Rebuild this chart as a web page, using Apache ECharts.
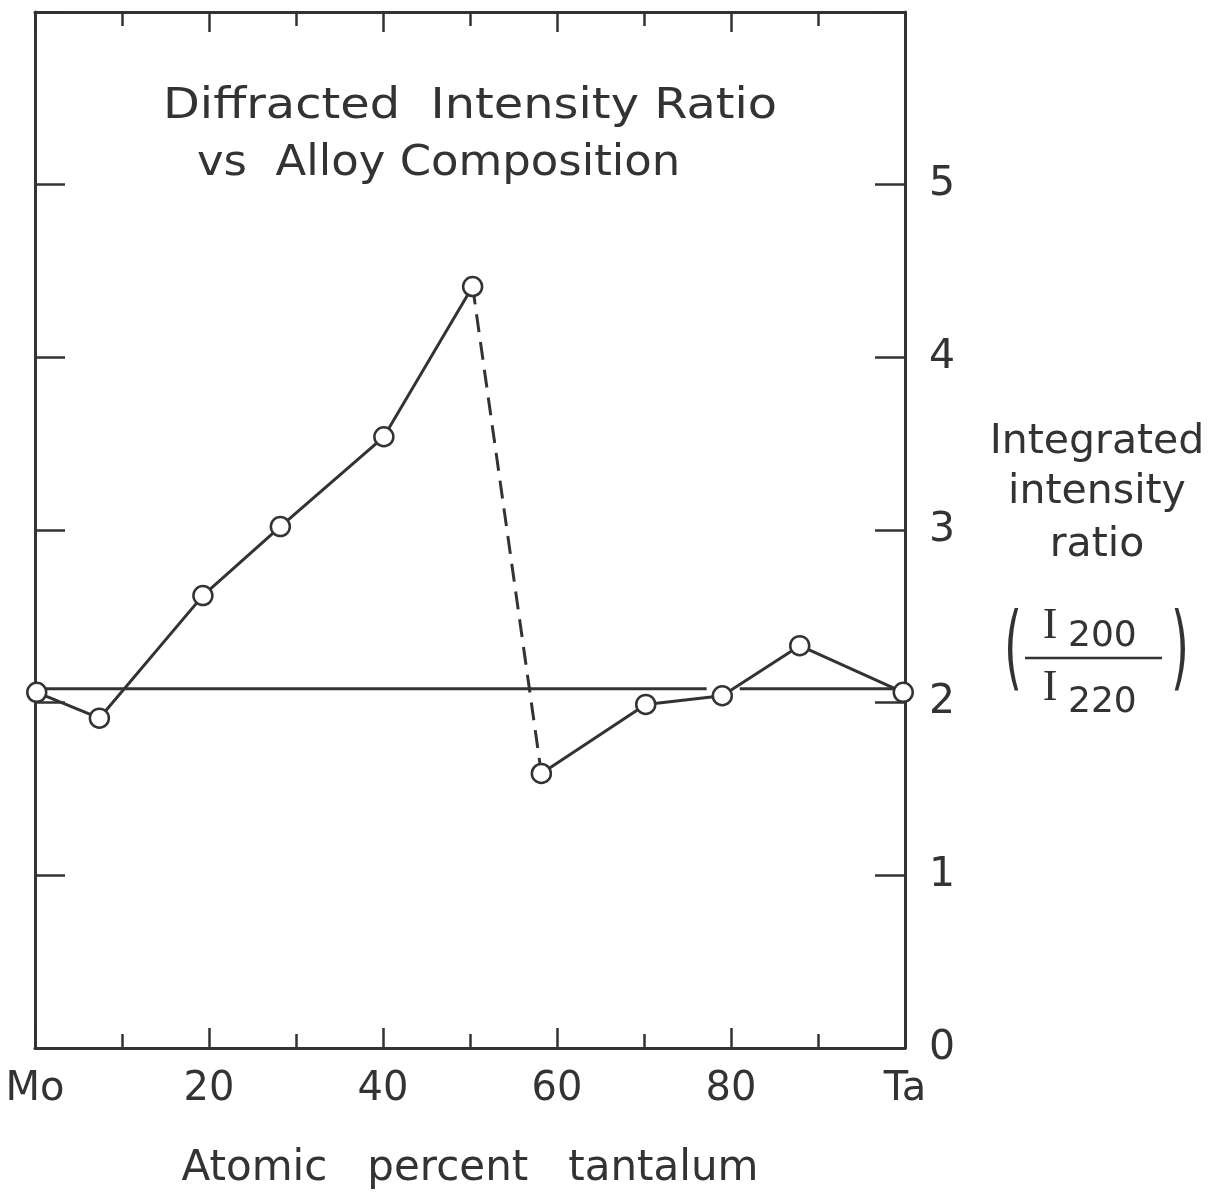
<!DOCTYPE html>
<html>
<head>
<meta charset="utf-8">
<script src="https://cdn.jsdelivr.net/npm/echarts@6/dist/echarts.min.js"></script>
<style>html,body{margin:0;padding:0;background:#fff;}#c{width:1221px;height:1198px;}</style>
</head>
<body>
<div id="c"></div>
<script>
// Atomic percent tantalum (x) and integrated intensity ratio I200/I220 (y)
const compPct = [0.2, 7.4, 19.3, 28.2, 40.1, 50.3, 58.2, 70.2, 79.0, 87.9, 99.8];
const ratio   = [2.06, 1.91, 2.62, 3.02, 3.54, 4.41, 1.59, 1.99, 2.04, 2.33, 2.06];
// index range of the dashed (uncertain) segment
const dashedFrom = 5, dashedTo = 6;
// horizontal reference level and its two drawn pieces (x-ranges)
const refLevel = 2.08;
const refPieces = [[0.2, 77.2], [81.0, 99.8]];
// axis tick labels
const xTickLabels = {0: 'Mo', 20: '20', 40: '40', 60: '60', 80: '80', 100: 'Ta'};
const yTickLabels = ['0', '1', '2', '3', '4', '5'];

const INK = '#333';
const FONT = 'DejaVu Sans';

const pts = compPct.map((x, i) => [x, ratio[i]]);
const solid1 = pts.slice(0, dashedFrom + 1);
const dashed = pts.slice(dashedFrom, dashedTo + 1);
const solid2 = pts.slice(dashedTo);

const markerStyle = {color: '#fff', borderColor: INK, borderWidth: 2.5};

const series = [];
refPieces.forEach(p => {
  series.push({
    type: 'line', data: [[p[0], refLevel], [p[1], refLevel]],
    showSymbol: false, symbol: 'none', z: 1,
    lineStyle: {color: INK, width: 3}, silent: true, animation: false
  });
});
series.push({
  type: 'line', data: dashed, symbol: 'none', z: 2,
  lineStyle: {color: INK, width: 3, type: [18, 10]}, animation: false
});
[solid1, solid2].forEach(d => {
  series.push({
    type: 'line', data: d, symbol: 'circle', symbolSize: 19, z: 3,
    lineStyle: {color: INK, width: 3}, itemStyle: markerStyle, animation: false
  });
});

const xAxisBase = {
  type: 'value', min: 0, max: 100, interval: 20,
  axisLine: {show: true, onZero: false, lineStyle: {color: INK, width: 3}},
  axisTick: {show: true, inside: true, length: 20, lineStyle: {color: INK, width: 2.5}},
  minorTick: {show: true, splitNumber: 2, length: 14, lineStyle: {color: INK, width: 2.5}},
  splitLine: {show: false}, minorSplitLine: {show: false}
};
const yAxisBase = {
  type: 'value', min: 0, max: 6, interval: 1,
  axisLine: {show: true, onZero: false, lineStyle: {color: INK, width: 3}},
  axisTick: {show: true, inside: true, length: 30, lineStyle: {color: INK, width: 2.5}},
  splitLine: {show: false}
};

const titleStyle = {fontFamily: FONT, fontSize: 42, fill: INK, align: 'left', verticalAlign: 'top'};
const sideStyle = {fontFamily: FONT, fontSize: 41, fill: INK, align: 'center', verticalAlign: 'middle'};

const option = {
  backgroundColor: '#fff',
  animation: false,
  grid: {left: 35, right: 316, top: 12, bottom: 150, containLabel: false},
  xAxis: [
    Object.assign({}, xAxisBase, {
      position: 'bottom',
      axisLabel: {show: true, margin: 22, fontFamily: FONT, fontSize: 40, color: INK,
        formatter: v => (xTickLabels[v] !== undefined ? xTickLabels[v] : '')},
      name: 'Atomic   percent   tantalum', nameLocation: 'middle', nameGap: 100,
      nameTextStyle: {fontFamily: FONT, fontSize: 42, color: INK}
    }),
    Object.assign({}, xAxisBase, {position: 'top', axisLabel: {show: false}})
  ],
  yAxis: [
    Object.assign({}, yAxisBase, {position: 'left', axisLabel: {show: false}}),
    Object.assign({}, yAxisBase, {
      position: 'right',
      axisLabel: {show: true, margin: 24, fontFamily: FONT, fontSize: 41, color: INK,
        formatter: v => (yTickLabels[v] !== undefined ? yTickLabels[v] : '')}
    })
  ],
  graphic: [
    {type: 'text', x: 163, y: 86, scaleX: 1.14, style: Object.assign({text: 'Diffracted  Intensity Ratio'}, titleStyle)},
    {type: 'text', x: 197, y: 143, scaleX: 1.07, style: Object.assign({text: 'vs  Alloy Composition'}, titleStyle)},
    {type: 'text', x: 1097, y: 442, style: Object.assign({text: 'Integrated'}, sideStyle)},
    {type: 'text', x: 1097, y: 492, style: Object.assign({text: 'intensity'}, sideStyle)},
    {type: 'text', x: 1097, y: 545, style: Object.assign({text: 'ratio'}, sideStyle)},
    {type: 'text', x: 1013, y: 655, scaleY: 2.0, style: {text: '(', fontFamily: FONT, fontSize: 46, fill: INK, align: 'center', verticalAlign: 'middle'}},
    {type: 'text', x: 1180, y: 655, scaleY: 2.0, style: {text: ')', fontFamily: FONT, fontSize: 46, fill: INK, align: 'center', verticalAlign: 'middle'}},
    {type: 'text', x: 1050, y: 626, style: {text: 'I', fontFamily: 'Liberation Serif', fontSize: 44, fill: INK, align: 'center', verticalAlign: 'middle'}},
    {type: 'text', x: 1068, y: 637, style: {text: '200', fontFamily: FONT, fontSize: 36, fill: INK, align: 'left', verticalAlign: 'middle'}},
    {type: 'line', shape: {x1: 1025, y1: 658, x2: 1162, y2: 658}, style: {stroke: INK, lineWidth: 2.5}},
    {type: 'text', x: 1050, y: 688, style: {text: 'I', fontFamily: 'Liberation Serif', fontSize: 44, fill: INK, align: 'center', verticalAlign: 'middle'}},
    {type: 'text', x: 1068, y: 703, style: {text: '220', fontFamily: FONT, fontSize: 36, fill: INK, align: 'left', verticalAlign: 'middle'}}
  ],
  series: series
};

const chart = echarts.init(document.getElementById('c'), null, {renderer: 'canvas'});
chart.setOption(option);
</script>
</body>
</html>
